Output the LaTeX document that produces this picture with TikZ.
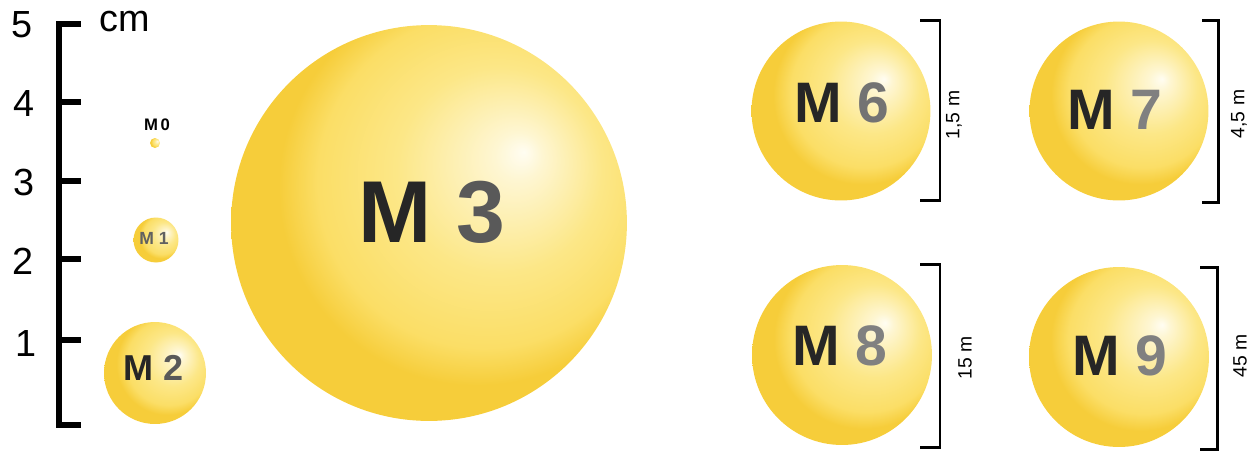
\documentclass[tikz,border=0pt]{standalone}
\usepackage{fontspec}
\setmainfont{Liberation Sans}
\definecolor{hl}{RGB}{255,253,242}
\definecolor{hl2}{RGB}{254,246,210}
\definecolor{mid}{RGB}{252,231,135}
\definecolor{mid2}{RGB}{251,222,102}
\definecolor{edge}{RGB}{246,205,58}
\pgfdeclareradialshading{yball}{\pgfpoint{12bp}{9bp}}{color(0bp)=(hl); color(3bp)=(hl2); color(13bp)=(mid); color(21bp)=(mid2); color(25bp)=(edge); color(50bp)=(edge)}
\begin{document}
\begin{tikzpicture}[x=0.02cm,y=-0.02cm,
  sphere/.style={circle,shade,shading=yball,inner sep=0pt,minimum size=#1*0.04cm},
  lab/.style={inner sep=0pt,font=\bfseries\fontsize{#1}{#1}\selectfont},
  scalebar/.style={line width=3pt,black,line cap=butt,line join=miter},
  bracket/.style={line width=1.7pt,black,line cap=butt,line join=miter},
  num/.style={inner sep=0pt,font=\fontsize{21.5}{21.5}\selectfont},
  dim/.style={inner sep=0pt,rotate=90,font=\fontsize{11}{11}\selectfont}]
\useasboundingbox (0,0) rectangle (1249,451);

% scale bar
\draw[scalebar] (81,24) -- (59,24) -- (59,425) -- (81,425);
\foreach \yy in {102,181,259,340} \draw[scalebar] (59,\yy) -- (81,\yy);
\node[num] (n5) at (22,25) {5};
\node[num] (n4) at (24,103) {4};
\node[num] (n3) at (24,182) {3};
\node[num] (n2) at (23,261) {2};
\node[num] (n1) at (26,343) {1};
\node[num,anchor=base] (cm) at (125,31) {cm};

% spheres
\node[sphere=5] (s0) at (155,143) {};
\node[lab=9.5] (t0) at (157,125) {M\,0};
\node[sphere=22.5] (s1) at (156,240) {};
\node[lab=10,text=black!62] (t1) at (154,238) {M 1};
\node[sphere=51] (s2) at (155,373) {};
\node[lab=20.5] (t2) at (154,368) {\textcolor{black!85}{M} \textcolor{black!65}{2}};
\node[sphere=198] (s3) at (429,223) {};
\node[lab=50] (t3) at (432,212) {\textcolor{black!85}{M} \textcolor{black!65}{3}};
\node[sphere=89.5] (s6) at (841,111) {};
\node[lab=32.5] (t6) at (842,103) {\textcolor{black!85}{M} \textcolor{black!55}{6}};
\node[sphere=89.5] (s7) at (1119,111) {};
\node[lab=32.5] (t7) at (1115,110) {\textcolor{black!85}{M} \textcolor{black!50}{7}};
\node[sphere=90] (s8) at (842,355) {};
\node[lab=32.5] (t8) at (840,346) {\textcolor{black!85}{M} \textcolor{black!50}{8}};
\node[sphere=90] (s9) at (1119,357) {};
\node[lab=32.5] (t9) at (1120,356) {\textcolor{black!85}{M} \textcolor{black!50}{9}};

% brackets
\draw[bracket] (920,20) -- (940,20) -- (940,200) -- (920,200);
\draw[bracket] (1202,20) -- (1218,20) -- (1218,202) -- (1202,202);
\draw[bracket] (920,264) -- (940,264) -- (940,447) -- (920,447);
\draw[bracket] (1200,267) -- (1217,267) -- (1217,449) -- (1200,449);
\node[dim] (d6) at (954,115) {1,5 m};
\node[dim] (d7) at (1239,114) {4,5 m};
\node[dim] (d8) at (965,358) {15 m};
\node[dim] (d9) at (1240,356) {45 m};
\end{tikzpicture}
\end{document}
